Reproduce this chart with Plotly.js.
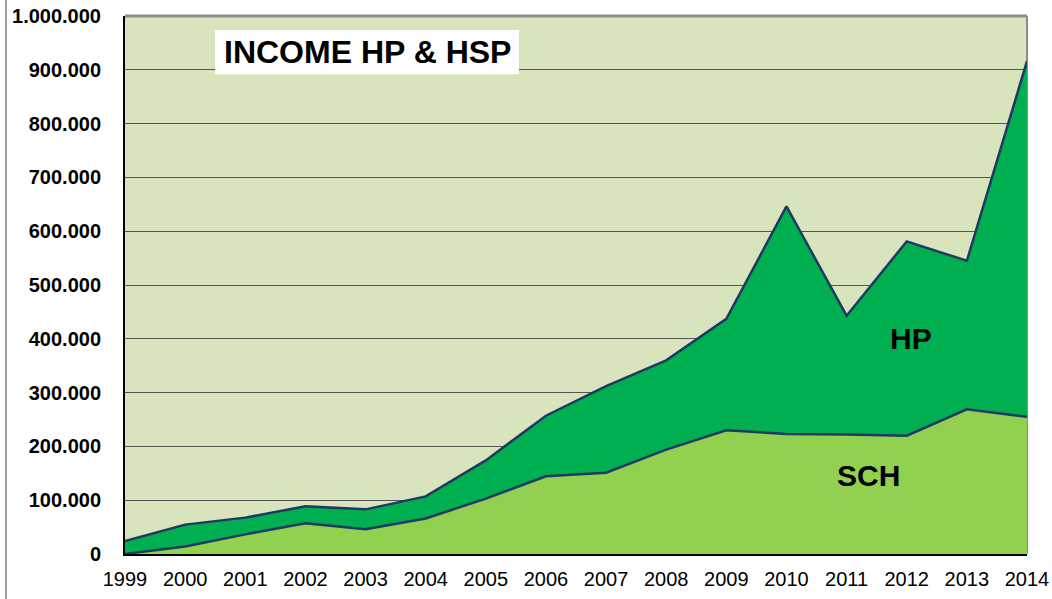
<!DOCTYPE html>
<html>
<head>
<meta charset="utf-8">
<script src="https://cdn.plot.ly/plotly-3.0.1.min.js"></script>
<style>
html,body{margin:0;padding:0;background:#fff;}
#chart{width:1052px;height:599px;position:relative;}
#frame{position:absolute;left:5px;top:0;width:0;height:599px;border-left:2px solid #a0a0a0;}
</style>
</head>
<body>
<div id="chart"></div>
<div id="frame"></div>
<script>
const years = [1999,2000,2001,2002,2003,2004,2005,2006,2007,2008,2009,2010,2011,2012,2013,2014];
const schValues = [0,14000,36500,57000,46000,66000,103000,144500,151000,194000,230000,223000,222000,220000,269000,255000];
const totalValues = [24000,54600,67600,88600,83000,107000,174000,257000,312000,360000,437000,646000,443000,581000,545000,916000];
const hpValues = totalValues.map((t,i)=>t - schValues[i]);
const yTicks = [0,100000,200000,300000,400000,500000,600000,700000,800000,900000,1000000];
const chartTitle = "INCOME HP & HSP";

const lineCol = '#1F3864';
const traces = [
  {x: years, y: schValues, name:'SCH', type:'scatter', mode:'lines', stackgroup:'one',
   line:{color:lineCol, width:2.5}, fillcolor:'#92D050', hoverinfo:'x+y'},
  {x: years, y: hpValues, name:'HP', type:'scatter', mode:'lines', stackgroup:'one',
   line:{color:lineCol, width:2.5}, fillcolor:'#00B050', hoverinfo:'x+y'}
];

const layout = {
  width:1052, height:599,
  margin:{l:125, r:25, t:16, b:45},
  paper_bgcolor:'#ffffff',
  plot_bgcolor:'#D8E4BC',
  separators:',.',
  showlegend:false,
  font:{family:'Arial, Liberation Sans, sans-serif', color:'#000'},
  xaxis:{
    range:[1999,2014], tickvals: years, ticktext: years.map(String),
    showgrid:false, zeroline:false,
    showline:true, linecolor:'#000', linewidth:2,
    ticks:'', tickfont:{size:20, color:'#000'}, ticklabelstandoff:6
  },
  yaxis:{
    range:[0,1000000], tickvals: yTicks, tickformat:',d',
    showgrid:true, gridcolor:'#555555', gridwidth:1,
    zeroline:false, showline:true, linecolor:'#000', linewidth:2,
    ticks:'', tickfont:{size:20, color:'#000', weight:'bold'}, ticklabelstandoff:18
  },
  shapes:[
    {type:'line', xref:'paper', yref:'paper', x0:0, x1:1, y0:1, y1:1, line:{color:'#8c8c8c', width:3}, layer:'above'},
    {type:'line', xref:'paper', yref:'paper', x0:1, x1:1, y0:0, y1:1, line:{color:'#8c8c8c', width:2}, layer:'below'},
    {type:'rect', xref:'paper', yref:'paper', x0:0.0998, x1:0.4368, y0:0.8916, y1:0.974, fillcolor:'#ffffff', line:{width:0}, layer:'above'}
  ],
  annotations:[
    {text:chartTitle, xref:'paper', yref:'paper', x:0.2683, y:0.9328, xanchor:'center', yanchor:'middle', showarrow:false,
     font:{size:32, color:'#000', weight:'bold'}},
    {text:'HP', xref:'x', yref:'y', x:2012.07, y:400000, xanchor:'center', yanchor:'middle', showarrow:false,
     font:{size:30, color:'#000', weight:'bold'}},
    {text:'SCH', xref:'x', yref:'y', x:2011.36, y:145000, xanchor:'center', yanchor:'middle', showarrow:false,
     font:{size:30, color:'#000', weight:'bold'}}
  ]
};

Plotly.newPlot('chart', traces, layout, {displayModeBar:false, staticPlot:true});
</script>
</body>
</html>
